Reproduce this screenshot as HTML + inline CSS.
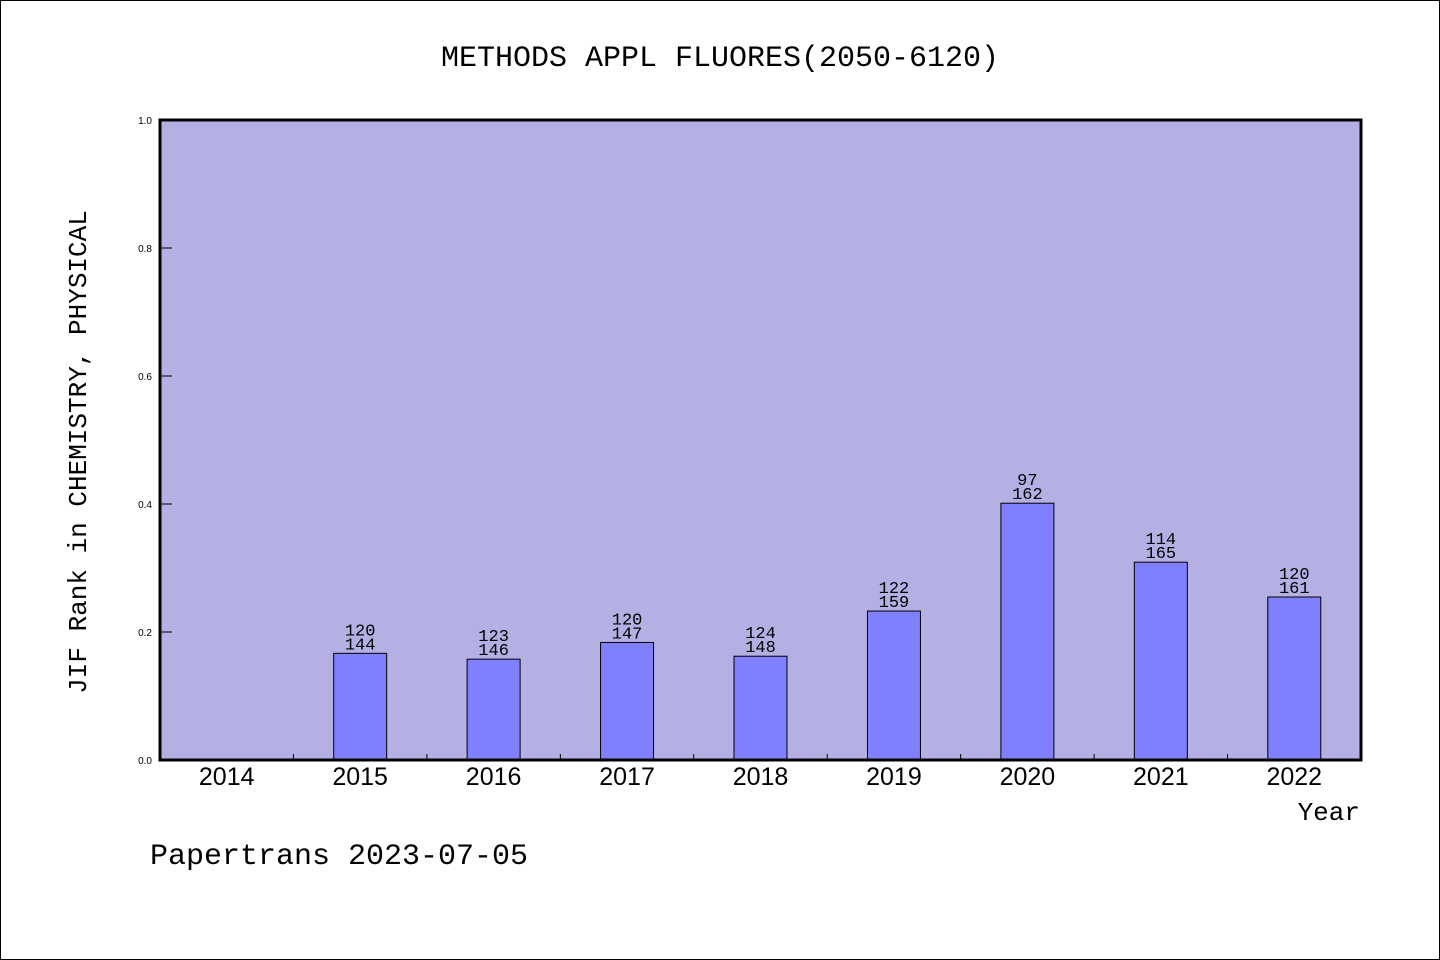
<!DOCTYPE html>
<html><head><meta charset="utf-8"><style>
html,body{margin:0;padding:0;background:#fff;}
svg{display:block;}
text{font-family:"WenQuanYi Zen Hei Mono","WenQuanYi Zen Hei","Liberation Mono",monospace;fill:#000;}
</style></head><body>
<svg id="chart" width="1440" height="960">
<rect x="0.5" y="0.5" width="1439" height="959" fill="#fff" stroke="#000" stroke-width="1"/>
<text x="720" y="66" font-size="30" text-anchor="middle">METHODS APPL FLUORES(2050-6120)</text>
<rect x="160" y="120" width="1201" height="640" fill="#b5b0e3"/>
<g id="bars"></g>
<g id="axes"></g>
<rect x="160" y="120" width="1201" height="640" fill="none" stroke="#000" stroke-width="3"/>
<text transform="translate(86,452) rotate(-90)" font-size="26" text-anchor="middle">JIF Rank in CHEMISTRY, PHYSICAL</text>
<text x="1360" y="820" font-size="26" text-anchor="end">Year</text>
<text x="150" y="864" font-size="30">Papertrans 2023-07-05</text>
</svg>
<script>
const years=["2014","2015","2016","2017","2018","2019","2020","2021","2022"];
const ranks=[null,120,123,120,124,122,97,114,120];
const totals=[null,144,146,147,148,159,162,165,161];
const yTicks=[0,0.2,0.4,0.6,0.8,1.0];
const NS="http://www.w3.org/2000/svg";
const L=160,R=1361,T=120,B=760;
const slot=(R-L)/years.length;
const xc=i=>L+slot*(i+0.5);
const y=v=>B-(B-T)*v;
function mk(tag,attrs,parent){const e=document.createElementNS(NS,tag);for(const k in attrs)e.setAttribute(k,attrs[k]);parent.appendChild(e);return e;}
const bars=document.getElementById('bars'),axes=document.getElementById('axes');
years.forEach((yr,i)=>{
  if(ranks[i]!=null){
    const v=1-ranks[i]/totals[i];
    const r=mk('rect',{x:xc(i)-26.5,y:y(v),width:53,height:B-y(v),fill:'#8080ff',stroke:'#000','stroke-width':1},bars);
    
    
    const t1=mk('text',{x:xc(i),y:y(v)-18,'font-size':17,'text-anchor':'middle'},bars);
    t1.textContent=ranks[i];
    
    
    const t2=mk('text',{x:xc(i),y:y(v)-4,'font-size':17,'text-anchor':'middle'},bars);
    t2.textContent=totals[i];
    
    
  }
  const xt=mk('text',{x:xc(i),y:785,'font-size':25,'text-anchor':'middle'},axes);
  xt.setAttribute('style','font-family:"Liberation Sans",sans-serif');
  xt.textContent=yr;
  
  
  if(i>0){
    const tk=mk('line',{x1:L+slot*i,x2:L+slot*i,y1:B,y2:B-6,stroke:'#000','stroke-width':1},axes);
    
    
  }
});
yTicks.forEach(v=>{
  const ln=mk('line',{x1:L,x2:L+12,y1:y(v),y2:y(v),stroke:'#000','stroke-width':1},axes);
  
  
  const t=mk('text',{x:152,y:y(v)+4,'font-size':10,'text-anchor':'end'},axes);
  t.setAttribute('style','font-family:"Liberation Sans",sans-serif');
  t.textContent=v.toFixed(1);
  
  
});
</script>
</body></html>
